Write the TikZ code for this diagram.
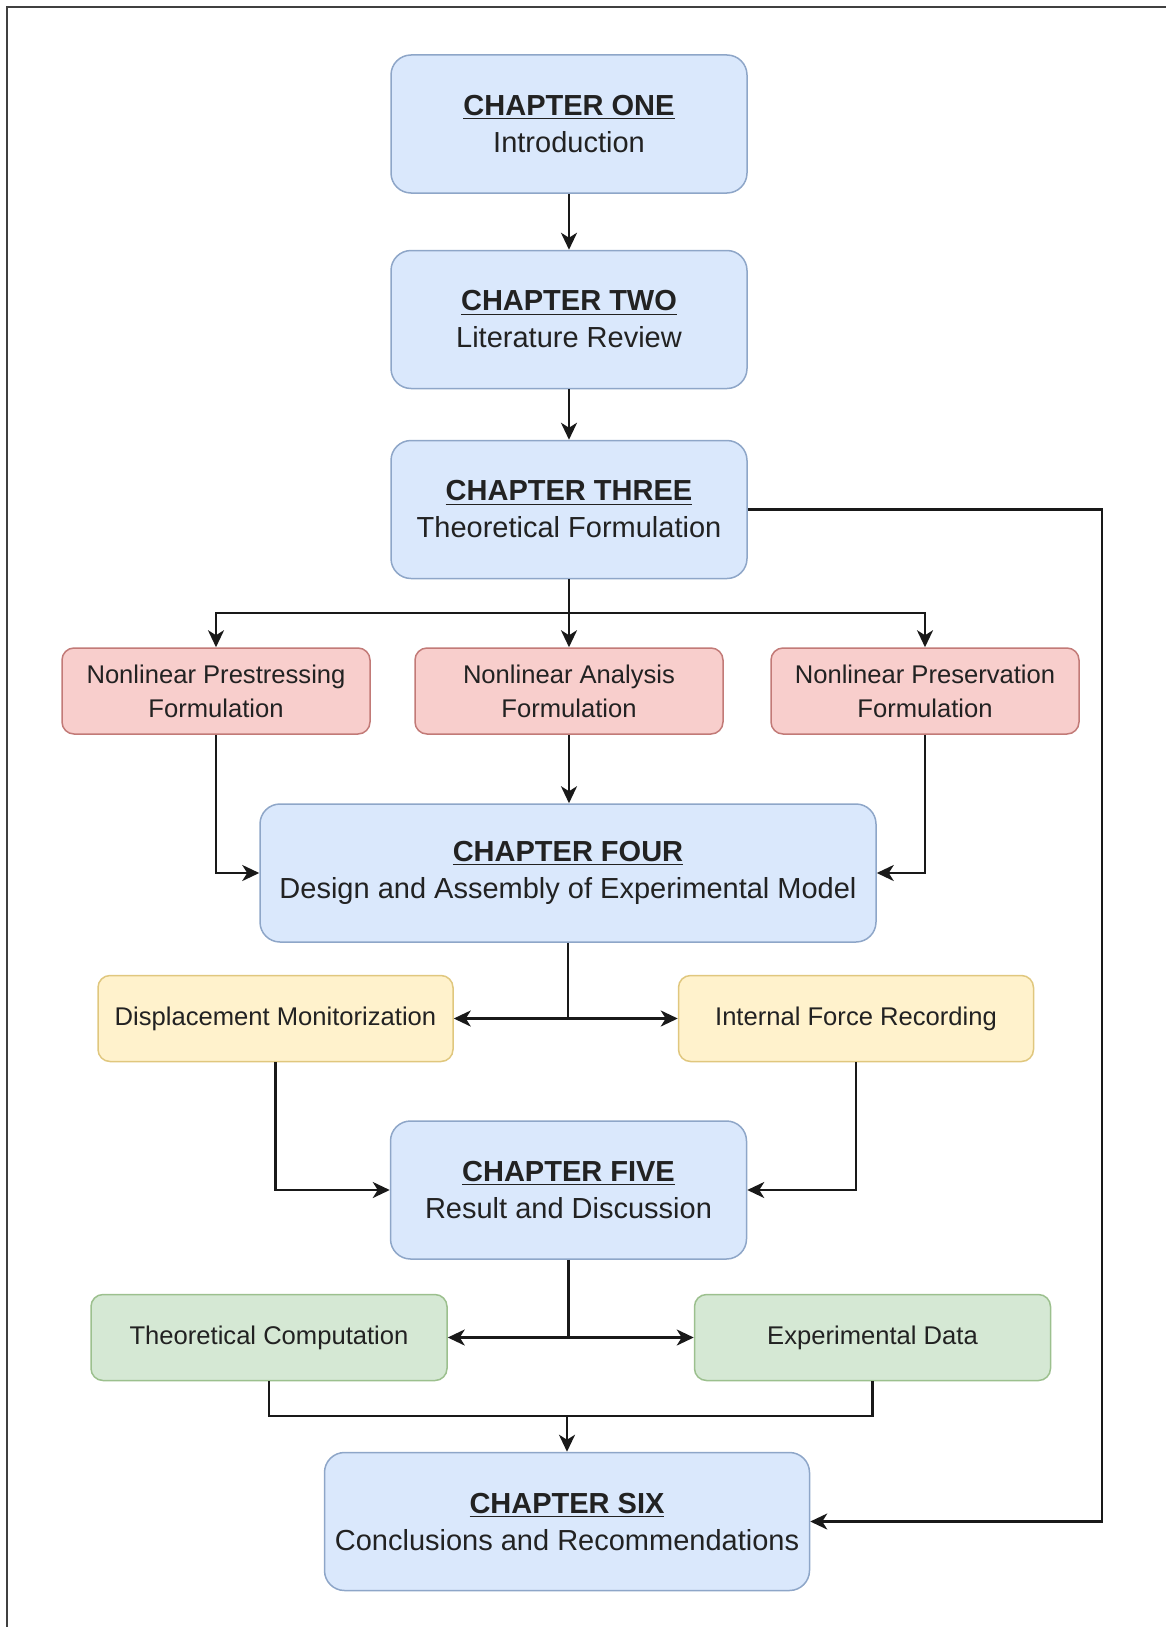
\documentclass[tikz,border=0pt]{standalone}
\usepackage{fontspec}
\setmainfont{Liberation Sans}
\usetikzlibrary{arrows.meta,calc}
\definecolor{bluefill}{HTML}{DAE8FC}
\definecolor{blueline}{HTML}{8EA6C8}
\definecolor{redfill}{HTML}{F8CECC}
\definecolor{redline}{HTML}{C27A77}
\definecolor{yelfill}{HTML}{FFF2CC}
\definecolor{yelline}{HTML}{E0C77E}
\definecolor{grnfill}{HTML}{D5E8D4}
\definecolor{grnline}{HTML}{9CC08E}
\definecolor{textc}{HTML}{222222}
\definecolor{framec}{HTML}{404040}
\newcommand\chtitle[1]{\underline{\textbf{#1}}}
\begin{document}
\begin{tikzpicture}[x=0.5pt,y=-0.5pt,
  box/.style={line width=0.75pt, inner sep=0pt, align=center, text=textc},
  chap/.style={box, draw=blueline, fill=bluefill, rounded corners=10pt,
    minimum width=178pt, minimum height=69pt,
    font=\fontsize{14.5}{18.5}\selectfont},
  sub/.style={box, rounded corners=6pt, minimum width=154pt, minimum height=43pt,
    font=\fontsize{12.8}{17}\selectfont},
  redbox/.style={sub, draw=redline, fill=redfill},
  yelbox/.style={sub, draw=yelline, fill=yelfill, minimum width=177.5pt},
  grnbox/.style={sub, draw=grnline, fill=grnfill, minimum width=178pt},
  wire/.style={line width=1.3pt, draw=black!90},
  conn/.style={wire, -{Stealth[length=8.5pt,width=8pt,inset=2.5pt]}}
]
\useasboundingbox (0,0) rectangle (1166,1627);
\draw[framec, line width=1pt] (6.5,1627) -- (6.5,7.5) -- (1166,7.5);

\node[chap] (ch1) at (569,124) {\chtitle{CHAPTER ONE}\\Introduction};
\node[chap] (ch2) at (569,319.5) {\chtitle{CHAPTER TWO}\\Literature Review};
\node[chap] (ch3) at (569,509.5) {\chtitle{CHAPTER THREE}\\Theoretical Formulation};

\node[redbox] (r1) at (216,691) {Nonlinear Prestressing\\Formulation};
\node[redbox] (r2) at (569,691) {Nonlinear Analysis\\Formulation};
\node[redbox] (r3) at (925,691) {Nonlinear Preservation\\Formulation};

\node[chap, minimum width=308pt] (ch4) at (568,873) {\chtitle{CHAPTER FOUR}\\Design and Assembly of Experimental Model};

\node[yelbox] (y1) at (275.5,1018.5) {Displacement Monitorization};
\node[yelbox] (y2) at (856,1018.5) {Internal Force Recording};

\node[chap] (ch5) at (568.5,1190) {\chtitle{CHAPTER FIVE}\\Result and Discussion};

\node[grnbox] (g1) at (269,1337.5) {Theoretical Computation};
\node[grnbox] (g2) at (872.5,1337.5) {Experimental Data};

\node[chap, minimum width=242.5pt] (ch6) at (567,1521.5) {\chtitle{CHAPTER SIX}\\Conclusions and Recommendations};

% connectors
\draw[conn] (ch1) -- (ch2);
\draw[conn] (ch2) -- (ch3);

\coordinate (j3) at (569,613);
\draw[wire] (ch3.south) -- (j3);
\draw[conn] (j3) -| (r1.north);
\draw[conn] (j3) -| (r3.north);
\draw[conn] (j3) -- (r2.north);

\coordinate (rx) at (1102,0);
\draw[conn] (ch3.east) -- (ch3.east -| rx) |- (ch6.east);

\draw[conn] (r1.south) |- (ch4.west);
\draw[conn] (r2.south) -- (r2.south |- ch4.north);
\draw[conn] (r3.south) |- (ch4.east);

\coordinate (j4) at (ch4.south |- y1.east);
\draw[wire] (ch4.south) -- (j4);
\draw[conn] (j4) -- (y1.east);
\draw[conn] (j4) -- (y2.west);

\draw[conn] (y1.south) |- (ch5.west);
\draw[conn] (y2.south) |- (ch5.east);

\coordinate (j5) at (ch5.south |- g1.east);
\draw[wire] (ch5.south) -- (j5);
\draw[conn] (j5) -- (g1.east);
\draw[conn] (j5) -- (g2.west);

\coordinate (j6) at (567,1416);
\draw[wire] (g1.south) |- (j6) -| (g2.south);
\draw[conn] (j6) -- (ch6.north);
\end{tikzpicture}
\end{document}
